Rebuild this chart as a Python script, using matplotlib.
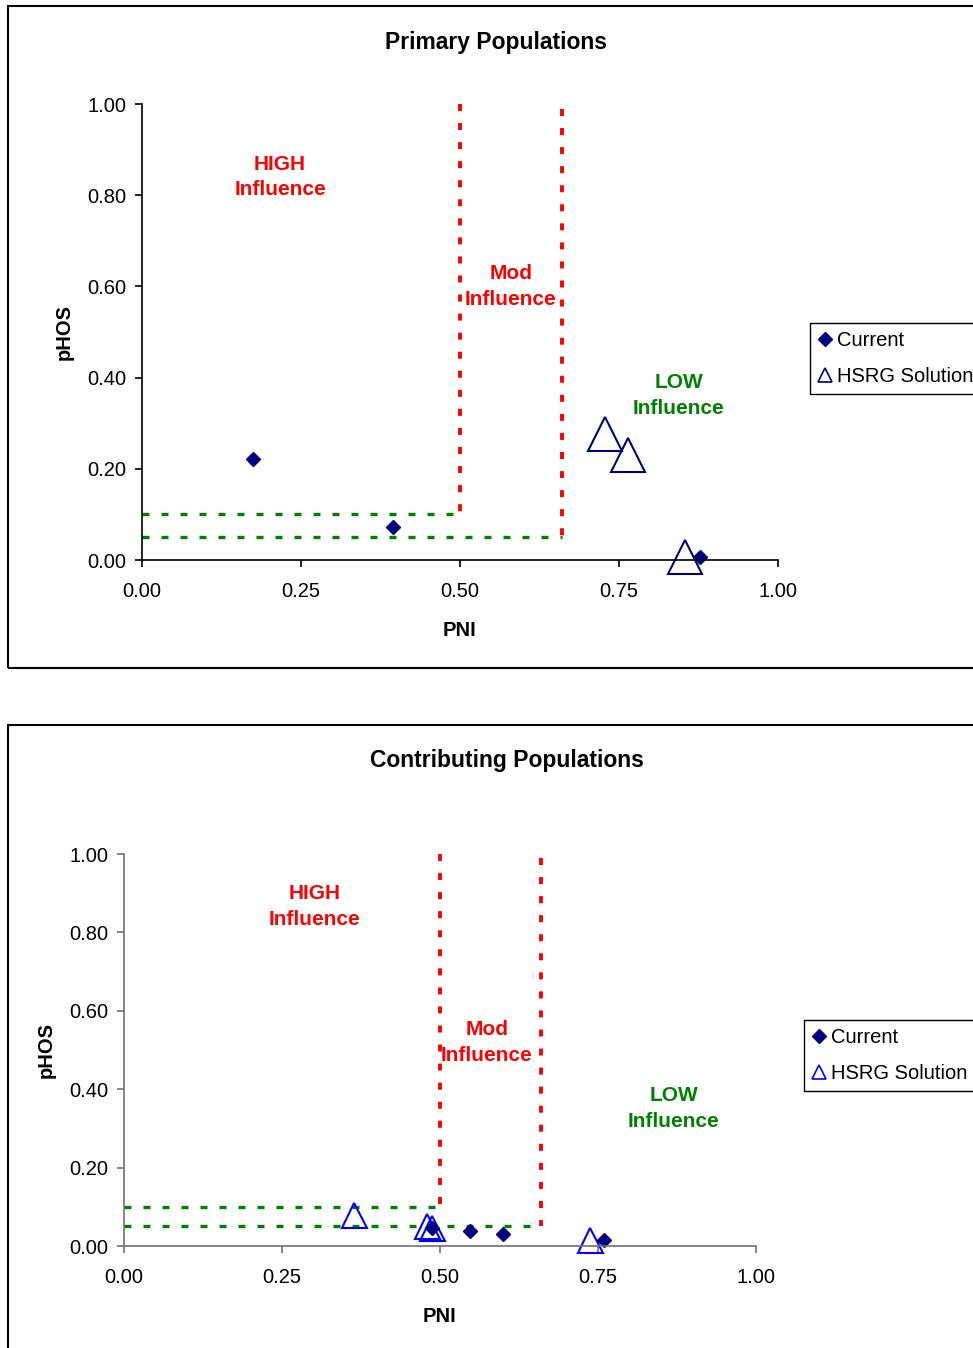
import matplotlib
matplotlib.use("Agg")
import matplotlib.pyplot as plt
from matplotlib.lines import Line2D
from matplotlib.patches import Rectangle

plt.rcParams['font.family'] = ['Liberation Sans', 'DejaVu Sans']

# Primary populations
prim_cur_pni = [0.175, 0.395, 0.877]
prim_cur_phos = [0.221, 0.072, 0.007]
prim_hsrg_pni = [0.728, 0.764, 0.854]
prim_hsrg_phos = [0.276, 0.230, 0.006]

# Contributing populations
contr_cur_pni = [0.487, 0.547, 0.599, 0.759]
contr_cur_phos = [0.047, 0.038, 0.031, 0.015]
contr_hsrg_pni = [0.364, 0.479, 0.488, 0.738]
contr_hsrg_phos = [0.079, 0.051, 0.046, 0.015]

x_ticks = [0.0, 0.25, 0.5, 0.75, 1.0]
y_ticks = [0.0, 0.2, 0.4, 0.6, 0.8, 1.0]

W, H = 973, 1348
fig = plt.figure(figsize=(W / 100, H / 100), dpi=100)


def px_axes(left, top, right, bottom):
    return fig.add_axes([left / W, 1 - bottom / H, (right - left) / W, (bottom - top) / H])


def frame(left, top, right, bottom):
    r = Rectangle((left / W, 1 - bottom / H), (right - left) / W, (bottom - top) / H,
                  transform=fig.transFigure, fill=False, edgecolor='black', lw=1.5)
    fig.patches.append(r)


green_dash = (0, (2.1, 3.6))
red_dash = (0, (1.8, 3.1))


def make_panel(ax, cur_x, cur_y, hs_x, hs_y, tri_size, tri_color, axis_color,
               high_xy, mod_xy, low_xy):
    ax.set_xlim(0, 1)
    ax.set_ylim(0, 1)
    for s in ['top', 'right']:
        ax.spines[s].set_visible(False)
    for s in ['left', 'bottom']:
        ax.spines[s].set_color(axis_color)
        ax.spines[s].set_linewidth(1.2)
    ax.set_xticks(x_ticks)
    ax.set_yticks(y_ticks)
    ax.set_xticklabels([f"{v:.2f}" for v in x_ticks])
    ax.set_yticklabels([f"{v:.2f}" for v in y_ticks])
    ax.tick_params(direction='out', length=5, width=1.2, color=axis_color,
                   labelsize=14.5, pad=6)
    ax.tick_params(axis='x', pad=11)
    ax.set_xlabel("PNI", fontsize=14.5, fontweight='bold', labelpad=14)
    ax.set_ylabel("pHOS", fontsize=14.5, fontweight='bold', labelpad=10)

    # zone lines
    ax.plot([0, 0.5], [0.1, 0.1], color='green', lw=2.4, ls=green_dash, clip_on=False)
    ax.plot([0, 0.66], [0.05, 0.05], color='green', lw=2.4, ls=green_dash, clip_on=False)
    ax.plot([0.5, 0.5], [1.0, 0.1], color='red', lw=2.8, ls=red_dash, clip_on=False)
    ax.plot([0.66, 0.66], [0.99, 0.05], color='red', lw=2.8, ls=red_dash, clip_on=False)

    ax.plot(hs_x, hs_y, ls='none', marker='^', ms=tri_size, mfc='none',
            mec=tri_color, mew=1.5, clip_on=False)
    ax.plot(cur_x, cur_y, ls='none', marker='D', ms=7, color='#000080',
            clip_on=False)

    ax.text(*high_xy, "HIGH\nInfluence", color='red', fontsize=15, fontweight='bold',
            ha='center', va='center', linespacing=1.45)
    ax.text(*mod_xy, "Mod\nInfluence", color='red', fontsize=15, fontweight='bold',
            ha='center', va='center', linespacing=1.45)
    ax.text(*low_xy, "LOW\nInfluence", color='green', fontsize=15, fontweight='bold',
            ha='center', va='center', linespacing=1.45)


def add_legend(ax, left, top, tri_color):
    handles = [
        Line2D([], [], ls='none', marker='D', ms=7, color='#000080'),
        Line2D([], [], ls='none', marker='^', ms=10, mfc='none', mec=tri_color, mew=1.2),
    ]
    leg = ax.legend(handles, ["Current", "HSRG Solution"], loc='upper left',
                    bbox_to_anchor=(left / W, 1 - top / H),
                    bbox_transform=fig.transFigure, fontsize=14.5, frameon=True,
                    fancybox=False, edgecolor='black', framealpha=1,
                    handlelength=0.6, handletextpad=0.3, borderpad=0.42,
                    labelspacing=0.8, borderaxespad=0)
    leg.get_frame().set_linewidth(1.0)


# top panel
frame(8, 6, 1000, 668)
ax1 = px_axes(142, 104, 778, 560)
make_panel(ax1, prim_cur_pni, prim_cur_phos, prim_hsrg_pni, prim_hsrg_phos,
           25, '#000080', 'black', (0.217, 0.84), (0.58, 0.6), (0.844, 0.36))
fig.text(496 / W, 1 - 42 / H, "Primary Populations", fontsize=16.5, fontweight='bold',
         ha='center', va='center')
add_legend(ax1, 810, 323, '#000080')

# bottom panel
frame(8, 725, 1000, 1360)
ax2 = px_axes(124, 854, 756, 1246)
make_panel(ax2, contr_cur_pni, contr_cur_phos, contr_hsrg_pni, contr_hsrg_phos,
           18, '#0000FF', '#707070', (0.302, 0.867), (0.574, 0.52), (0.87, 0.35))
fig.text(507 / W, 1 - 761 / H, "Contributing Populations", fontsize=16.5,
         fontweight='bold', ha='center', va='center')
add_legend(ax2, 804, 1020, '#0000FF')

fig.savefig("out.png", dpi=100)
